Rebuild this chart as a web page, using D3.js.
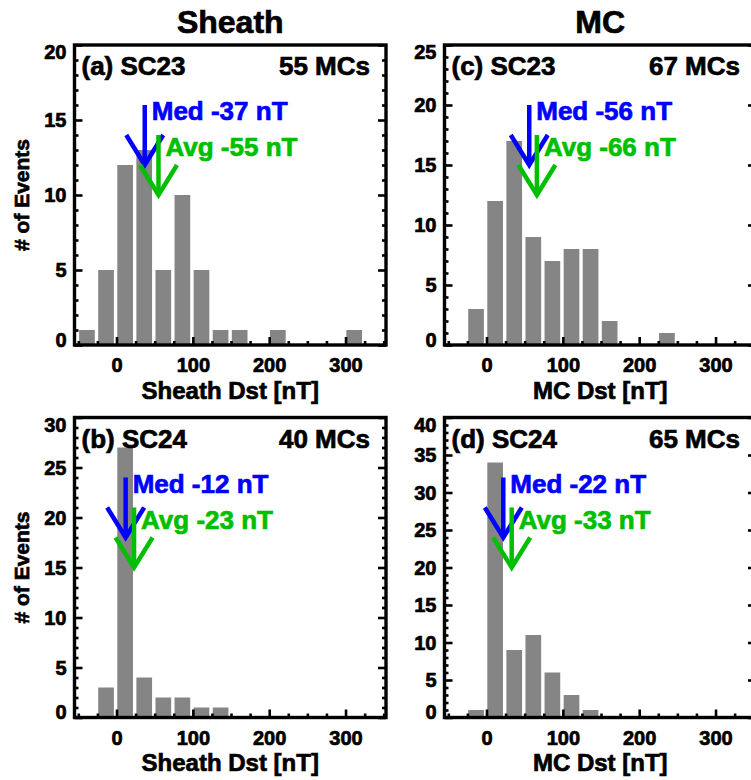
<!DOCTYPE html>
<html>
<head>
<meta charset="utf-8">
<script src="https://cdn.jsdelivr.net/npm/d3@7"></script>
<style>
  body { margin: 0; background: #fff; }
  svg { display: block; font-family: "Liberation Sans", Arial, sans-serif; font-weight: bold; }
  svg text { stroke: currentColor; stroke-width: 0.7px; paint-order: fill; }
</style>
</head>
<body>
<svg id="chart"></svg>
<script>
// bin lower edges (nT, -Dst), bin width 25
const binLo = [-50, -25, 0, 25, 50, 75, 100, 125, 150, 175, 200, 225, 250, 275, 300];
const binWidth = 25;

const sheathSC23 = [1, 5, 12, 13, 5, 10, 5, 1, 1, 0, 1, 0, 0, 0, 1];
const sheathSC24 = [0, 3, 27, 4, 2, 2, 1, 1, 0, 0, 0, 0, 0, 0, 0];
const mcSC23 = [0, 3, 12, 17, 9, 7, 8, 8, 2, 0, 0, 1, 0, 0, 0];
const mcSC24 = [0, 1, 34, 9, 11, 6, 3, 1, 0, 0, 0, 0, 0, 0, 0];

const panelLabels = ["(a) SC23", "(b) SC24", "(c) SC23", "(d) SC24"];
const mcCounts = [55, 40, 67, 65];
const medians = [-37, -12, -56, -22];
const averages = [-55, -23, -66, -33];
const yMaxes = [20, 30, 25, 40];
const xTickLabels = [0, 100, 200, 300];
const columnTitles = ["Sheath", "MC"];
const xTitles = ["Sheath Dst [nT]", "MC Dst [nT]"];

const W = 751, H = 780;
const pw = 311.5, ph = 300;
const origins = [[74.5, 45], [74.5, 417.5], [444.5, 45], [444.5, 417.5]];
const series = [sheathSC23, sheathSC24, mcSC23, mcSC24];

const barColor = "#858585", blue = "#0000ff", green = "#00bf00";

const svg = d3.select("#chart").attr("width", W).attr("height", H);

series.forEach((counts, i) => {
    const col = i < 2 ? 0 : 1;
    const row = i % 2;
    const [ox, oy] = origins[i];
    const g = svg.append("g").attr("transform", `translate(${ox},${oy})`);

    const x = d3.scaleLinear().domain([-55, 353]).range([0, pw]);
    const y = d3.scaleLinear().domain([0, yMaxes[i]]).range([ph, 0]);

    // bars
    g.selectAll("rect.bar")
        .data(binLo.map((lo, k) => ({lo, n: counts[k]})).filter(d => d.n > 0))
        .join("rect")
        .attr("class", "bar")
        .attr("x", d => x(d.lo) + 0.8)
        .attr("width", d => x(d.lo + binWidth) - x(d.lo) - 3.4)
        .attr("y", d => y(d.n))
        .attr("height", d => ph - y(d.n))
        .attr("fill", barColor);

    // ticks
    const minorY = d3.range(0, yMaxes[i] + 1, 1).filter(v => v % 5 !== 0);
    const majorY = d3.range(0, yMaxes[i] + 1, 5);
    const minorX = d3.range(-50, 351, 25).filter(v => v % 100 !== 0);

    const styleAxis = sel => {
        sel.select(".domain").remove();
        sel.selectAll("line").attr("stroke", "#000").attr("stroke-width", 2.6);
    };

    g.append("g")
        .call(d3.axisLeft(y).tickValues(minorY).tickSize(-4).tickFormat(""))
        .call(styleAxis);
    const yAx = g.append("g")
        .call(d3.axisLeft(y).tickValues(majorY).tickSize(-8).tickPadding(8))
        .call(styleAxis);
    yAx.selectAll("text")
        .attr("font-size", "20px")
        .attr("fill", "#000")
        .attr("font-family", null)
        .attr("dy", d => d === 0 ? "0.05em" : d === yMaxes[i] ? "0.68em" : "0.34em");

    g.append("g").attr("transform", `translate(${pw},0)`)
        .call(d3.axisRight(y).tickValues(minorY).tickSize(-4).tickFormat(""))
        .call(styleAxis);
    g.append("g").attr("transform", `translate(${pw},0)`)
        .call(d3.axisRight(y).tickValues(majorY).tickSize(-8).tickFormat(""))
        .call(styleAxis);

    g.append("g").attr("transform", `translate(0,${ph})`)
        .call(d3.axisBottom(x).tickValues(minorX).tickSize(-4).tickFormat(""))
        .call(styleAxis);
    const xAx = g.append("g").attr("transform", `translate(0,${ph})`)
        .call(d3.axisBottom(x).tickValues(xTickLabels).tickSize(-8).tickPadding(13))
        .call(styleAxis);
    xAx.selectAll("text")
        .attr("font-size", "20px")
        .attr("fill", "#000")
        .attr("font-family", null);

    // frame
    g.append("rect")
        .attr("width", pw).attr("height", ph)
        .attr("fill", "none").attr("stroke", "#000").attr("stroke-width", 3.4);

    // arrows
    const arrows = [
        {v: -medians[i], top: 0.8, tip: 0.6, c: blue, txt: `Med ${medians[i]} nT`, ty: 0.75},
        {v: -averages[i], top: 0.7, tip: 0.5, c: green, txt: `Avg ${averages[i]} nT`, ty: 0.63}
    ];
    arrows.forEach(a => {
        const ax = x(a.v), ym = yMaxes[i];
        const ytip = y(a.tip * ym), ywing = y((a.tip + 0.1) * ym);
        g.append("line")
            .attr("x1", ax).attr("x2", ax)
            .attr("y1", y(a.top * ym)).attr("y2", ytip)
            .attr("stroke", a.c).attr("stroke-width", 4.5);
        g.append("path")
            .attr("d", `M${ax - 18.5},${ywing}L${ax},${ytip}L${ax + 18.5},${ywing}`)
            .attr("fill", "none").attr("stroke", a.c).attr("stroke-width", 4.5)
            .attr("stroke-linejoin", "miter");
        g.append("text")
            .attr("x", ax + 7).attr("y", y(a.ty * ym))
            .attr("fill", a.c).style("color", a.c).attr("font-size", "26px")
            .text(a.txt);
    });

    // panel labels
    g.append("text")
        .attr("x", 7).attr("y", 30)
        .attr("font-size", "26px")
        .text(panelLabels[i]);
    g.append("text")
        .attr("x", pw - 16).attr("y", 30)
        .attr("text-anchor", "end")
        .attr("font-size", "26px")
        .text(`${mcCounts[i]} MCs`);

    // x title
    g.append("text")
        .attr("x", pw / 2).attr("y", ph + 53.5)
        .attr("text-anchor", "middle")
        .attr("font-size", "24px")
        .text(xTitles[col]);

    // y title (left column only)
    if (col === 0) {
        g.append("text")
            .attr("transform", `translate(${28.5 - ox},${ph / 2}) rotate(-90)`)
            .attr("text-anchor", "middle")
            .attr("font-size", "21px")
            .text("# of Events");
    }

    // column title
    if (row === 0) {
        g.append("text")
            .attr("x", pw / 2).attr("y", 33.3 - oy)
            .attr("text-anchor", "middle")
            .attr("font-size", "32px")
            .text(columnTitles[col]);
    }
});
</script>
</body>
</html>
